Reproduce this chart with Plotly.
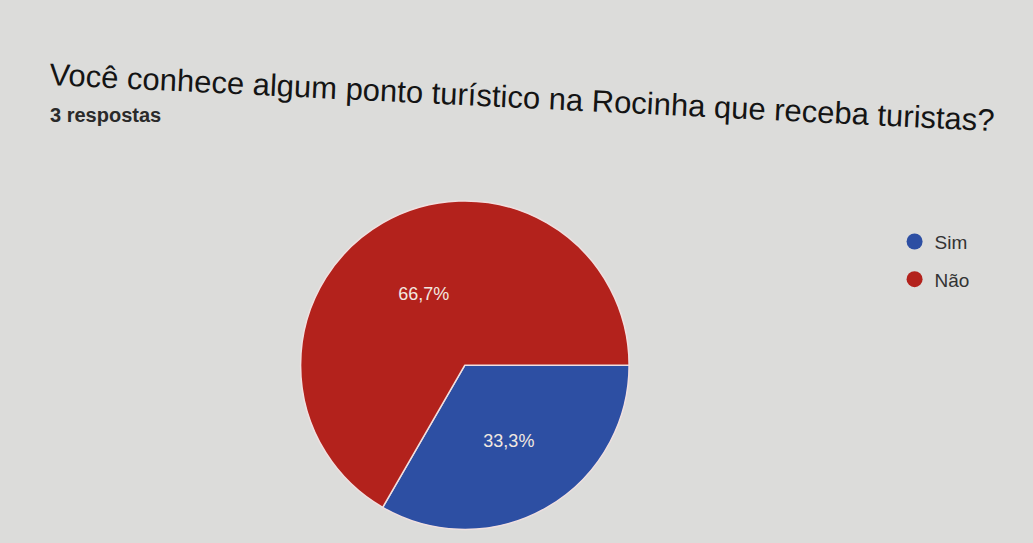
import plotly.graph_objects as go

labels = ["Sim", "Não"]
values = [1, 2]
pct_text = ["33,3%", "66,7%"]
colors = ["#2d4fa3", "#b3221c"]
title = "Você conhece algum ponto turístico na Rocinha que receba turistas?"
subtitle = "3 respostas"

fig = go.Figure()
fig.add_trace(go.Pie(
    labels=labels, values=values, text=pct_text, textinfo="text",
    textposition="inside", insidetextfont=dict(color="#f2e8e0", size=18, family="Arial"),
    marker=dict(colors=colors, line=dict(color="#f0e0e0", width=1.5)),
    sort=False, direction="clockwise", rotation=90, showlegend=False,
    domain=dict(x=[0.290, 0.610], y=[0.025, 0.630]),
))
for lab, col in zip(labels, colors):
    fig.add_trace(go.Scatter(x=[None], y=[None], mode="markers", name=lab, legendgroup=lab,
                             marker=dict(symbol="circle", size=22, color=col)))

fig.update_layout(
    width=1033, height=543, margin=dict(l=0, r=0, t=0, b=0),
    paper_bgcolor="#dcdcda", plot_bgcolor="rgba(0,0,0,0)",
    xaxis=dict(visible=False), yaxis=dict(visible=False),
    legend=dict(x=0.866, y=0.590, xanchor="left", yanchor="top",
                font=dict(size=19, color="#333333", family="Arial"),
                bgcolor="rgba(0,0,0,0)", itemsizing="trace", tracegroupgap=10),
    annotations=[
        dict(text=title, x=522/1033, y=1-98/543, xref="paper", yref="paper",
             xanchor="center", yanchor="middle", showarrow=False, textangle=2.8,
             font=dict(size=31, color="#141414", family="Arial")),
        dict(text="<b>" + subtitle + "</b>", x=48/1033, y=1-115/543, xref="paper", yref="paper",
             xanchor="left", yanchor="middle", showarrow=False,
             font=dict(size=20, color="#2a2a2a", family="Arial")),
    ],
)
fig.write_html("out.html")
